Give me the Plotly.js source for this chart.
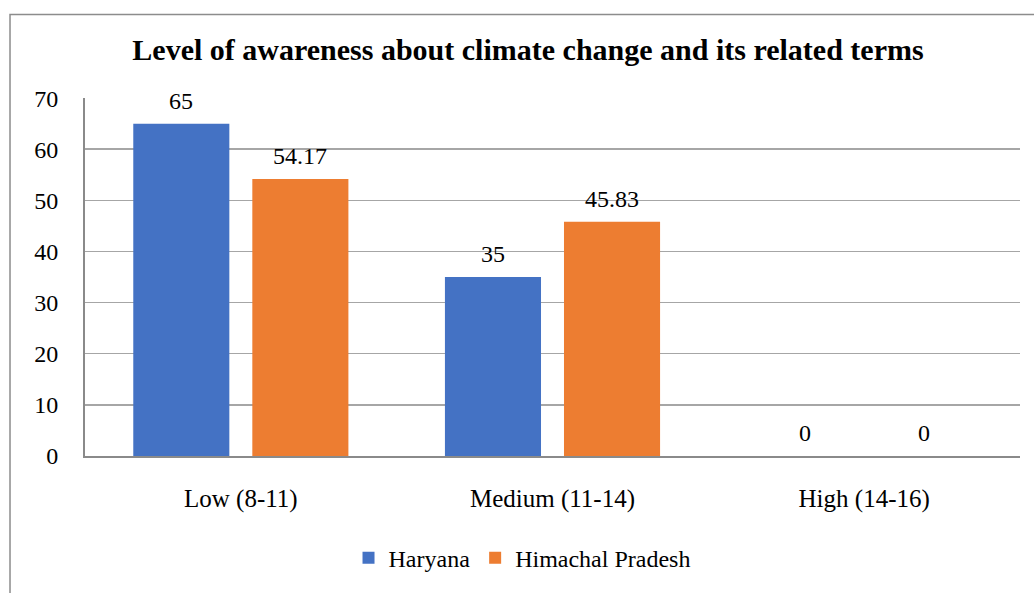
<!DOCTYPE html>
<html>
<head>
<meta charset="utf-8">
<script src="https://cdn.plot.ly/plotly-3.0.1.min.js"></script>
<style>html,body{margin:0;padding:0;background:#fff;}#chart{width:1034px;height:593px;}</style>
</head>
<body>
<div id="chart"></div>
<script>
const categories = ["Low (8-11)", "Medium (11-14)", "High (14-16)"];
const haryana = [65, 35, 0];
const himachal = [54.17, 45.83, 0];
const haryanaLabels = ["65", "35", "0"];
const himachalLabels = ["54.17", "45.83", "0"];
const yTicks = [0, 10, 20, 30, 40, 50, 60, 70];

const font = "Liberation Serif";
const W = 1034, H = 593;
const margin = {l: 85, r: 14, t: 98, b: 131};
const bargap = 0.236;
const plotW = W - margin.l - margin.r;
const slot = plotW / categories.length * (1 - bargap) / 2;

const traces = [
  {type: "bar", name: "Haryana", x: categories, y: haryana,
   marker: {color: "#4472C4"}, hoverinfo: "none"},
  {type: "bar", name: "Himachal Pradesh", x: categories, y: himachal,
   marker: {color: "#ED7D31"}, hoverinfo: "none"}
];

const annotations = [];
[[haryana, haryanaLabels, -1], [himachal, himachalLabels, 1]].forEach(([vals, labels, side]) => {
  vals.forEach((v, i) => {
    annotations.push({x: categories[i], y: v, xref: "x", yref: "y", text: labels[i],
      showarrow: false, yanchor: "bottom", xanchor: "center", xshift: side * slot / 2, yshift: 8,
      font: {family: font, size: 24, color: "#000"}});
  });
});

const layout = {
  width: W, height: H,
  margin: margin,
  paper_bgcolor: "#fff", plot_bgcolor: "#fff",
  font: {family: font, size: 24, color: "#000"},
  title: {text: "<b>Level of awareness about climate change and its related terms</b>",
          x: 0.4738, xanchor: "center", xref: "paper", y: 0.917, yanchor: "middle", yref: "container",
          font: {family: font, size: 30, color: "#000"}},
  barmode: "group", bargap: bargap, bargroupgap: 0.193,
  showlegend: true,
  legend: {orientation: "h", x: 0.4674, xanchor: "center", y: -0.285, yanchor: "middle",
           font: {family: font, size: 24, color: "#000"}, itemclick: false},
  xaxis: {showgrid: false, showline: true, linecolor: "#8a8a8a", linewidth: 2,
          ticks: "", ticklabelstandoff: 19, tickfont: {family: font, size: 25, color: "#000"}},
  yaxis: {range: [0, 70.02], tickvals: yTicks, showgrid: true, gridcolor: "#a6a6a6", gridwidth: 1.5,
          showline: true, linecolor: "#8a8a8a", linewidth: 2, zeroline: false,
          ticks: "", ticklabelstandoff: 20, tickfont: {family: font, size: 24, color: "#000"}},
  annotations: annotations,
  shapes: [
    {type: "rect", xref: "paper", yref: "paper", x0: -0.0802, x1: 1.2, y0: -0.5, y1: 1.2335,
     line: {color: "#8c8c8c", width: 1.5}, fillcolor: "rgba(0,0,0,0)", layer: "below"}
  ]
};
Plotly.newPlot("chart", traces, layout, {staticPlot: true});
</script>
</body>
</html>
